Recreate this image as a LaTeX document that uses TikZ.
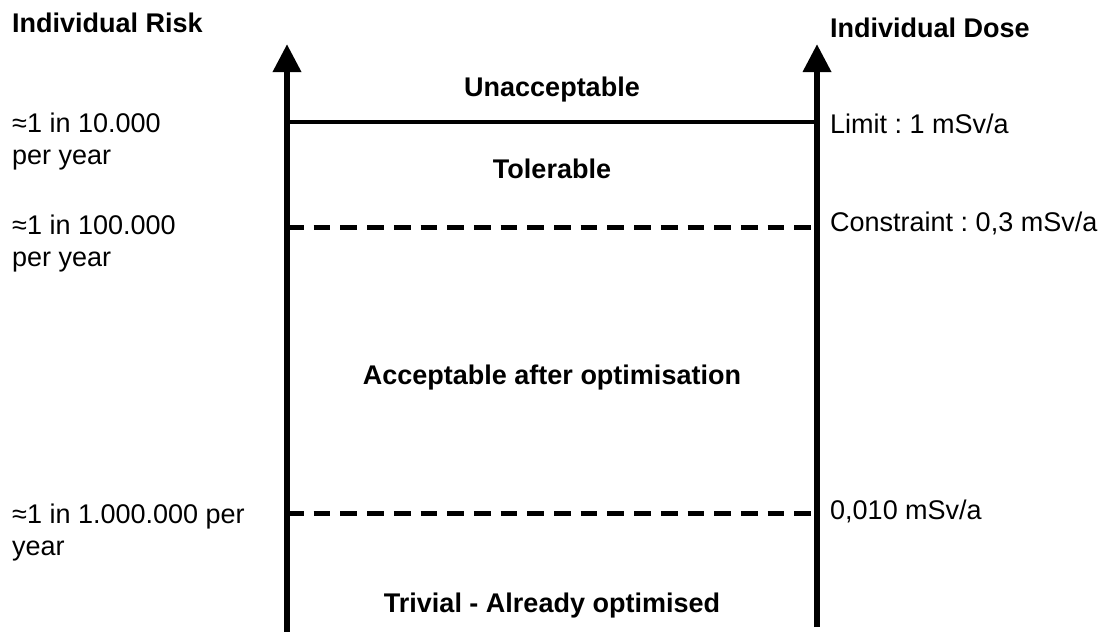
\documentclass[tikz,border=0pt]{standalone}
\usepackage{fontspec}
\setmainfont{Liberation Sans}
\usetikzlibrary{arrows.meta}
\frenchspacing
\begin{document}
\begin{tikzpicture}[x=1pt,y=-1pt,
  lbl/.style={inner sep=0pt,font=\fontsize{27pt}{31.5pt}\selectfont\frenchspacing},
  head/.style={lbl,font=\fontsize{27pt}{31.5pt}\selectfont\bfseries\frenchspacing},
  axis/.style={line width=6.5pt,-{Triangle[length=28pt,width=27pt]}},
  limitline/.style={line width=4.7pt},
  levelline/.style={line width=5pt,dash pattern=on 16.7pt off 10pt}]
\useasboundingbox (0,0) rectangle (1106,632);
% axes
\coordinate (Lb) at (287,632);
\coordinate (Lt) at (287,44);
\coordinate (Rb) at (817,627);
\coordinate (Rt) at (817,44);
\draw[axis] (Lb) -- (Lt);
\draw[axis] (Rb) -- (Rt);
% level lines
\coordinate (L1) at (287,122); \coordinate (R1) at (817,122);
\coordinate (L2) at (287,227.5); \coordinate (R2) at (817,227.5);
\coordinate (L3) at (287,513); \coordinate (R3) at (817,513);
\draw[limitline] (L1) -- (R1);
\draw[levelline] (L2) -- (R2);
\draw[levelline] (L3) -- (R3);
% headings
\node[head,anchor=base west] (risk) at (12,32) {Individual Risk};
\node[head,anchor=base west] (dose) at (830,37) {Individual Dose};
% left labels (base anchor = last line)
\node[lbl,anchor=base west,align=left] (r1) at (12,164) {≈1 in 10.000\\per year};
\node[lbl,anchor=base west,align=left] (r2) at (12,266) {≈1 in 100.000\\per year};
\node[lbl,anchor=base west,align=left] (r3) at (12,555) {≈1 in 1.000.000 per\\year};
% right labels
\node[lbl,anchor=base west] (d1) at (830,133) {Limit : 1 mSv/a};
\node[lbl,anchor=base west] (d2) at (830,231) {Constraint : 0,3 mSv/a};
\node[lbl,anchor=base west] (d3) at (830,519) {0,010 mSv/a};
% zone labels
\node[head,anchor=base] (z1) at (552,96) {Unacceptable};
\node[head,anchor=base] (z2) at (552,178) {Tolerable};
\node[head,anchor=base] (z3) at (552,384) {Acceptable after optimisation};
\node[head,anchor=base] (z4) at (552,612) {Trivial - Already optimised};
\end{tikzpicture}
\end{document}
